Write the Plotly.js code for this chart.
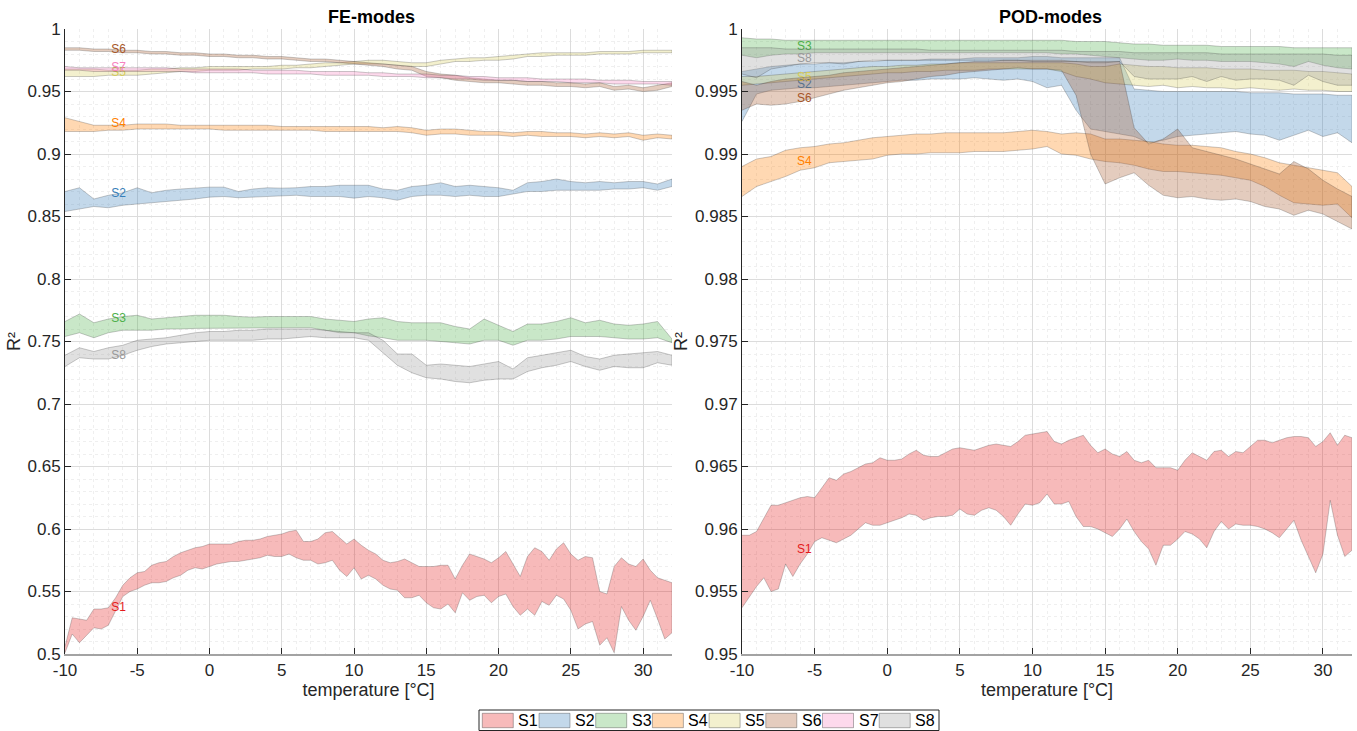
<!DOCTYPE html>
<html>
<head>
<meta charset="utf-8">
<script src="https://cdn.plot.ly/plotly-3.0.1.min.js"></script>
<style>
  html, body { margin: 0; padding: 0; background: #ffffff; }
  #chart { width: 1357px; height: 731px; }
</style>
</head>
<body>
<div id="chart"></div>
<script>
// Temperature grids (°C)
const tempC = [-10,-9,-8,-7,-6,-5,-4,-3,-2,-1,0,1,2,3,4,5,6,7,8,9,10,11,12,13,14,15,16,17,18,19,20,21,22,23,24,25,26,27,28,29,30,31,32];
const tempHalf = [-10,-9.5,-9,-8.5,-8,-7.5,-7,-6.5,-6,-5.5,-5,-4.5,-4,-3.5,-3,-2.5,-2,-1.5,-1,-0.5,
  0,0.5,1,1.5,2,2.5,3,3.5,4,4.5,5,5.5,6,6.5,7,7.5,8,8.5,9,9.5,
  10,10.5,11,11.5,12,12.5,13,13.5,14,14.5,15,15.5,16,16.5,17,17.5,18,18.5,19,19.5,
  20,20.5,21,21.5,22,22.5,23,23.5,24,24.5,25,25.5,26,26.5,27,27.5,28,28.5,29,29.5,
  30,30.5,31,31.5,32];

const seriesNames = ['S1','S2','S3','S4','S5','S6','S7','S8'];
const seriesColors = ['#e41a1c','#377eb8','#4daf4a','#ff7f00','#d6cc5c','#a65628','#f781bf','#999999'];

// ---- FE-modes: R² envelopes (upper / lower) ----
const feS1Hi = [0.506,0.529,0.528,0.527,0.536,0.536,0.537,0.545,0.555,0.561,
  0.565,0.566,0.571,0.573,0.574,0.578,0.581,0.583,0.585,0.586,
  0.588,0.588,0.588,0.588,0.590,0.591,0.591,0.592,0.594,0.595,
  0.596,0.598,0.599,0.590,0.590,0.592,0.597,0.598,0.593,0.588,
  0.592,0.587,0.583,0.580,0.575,0.573,0.574,0.576,0.573,0.570,
  0.570,0.570,0.571,0.571,0.560,0.571,0.580,0.578,0.576,0.573,
  0.577,0.582,0.572,0.562,0.578,0.585,0.582,0.575,0.584,0.589,
  0.580,0.575,0.578,0.577,0.550,0.548,0.570,0.577,0.572,0.570,
  0.576,0.567,0.561,0.559,0.557];
const feS1Lo = [0.501,0.516,0.509,0.515,0.521,0.520,0.523,0.535,0.546,0.550,
  0.552,0.555,0.557,0.557,0.558,0.561,0.563,0.567,0.569,0.568,
  0.570,0.572,0.573,0.574,0.574,0.575,0.576,0.577,0.579,0.578,
  0.578,0.580,0.577,0.575,0.575,0.572,0.573,0.575,0.567,0.562,
  0.569,0.560,0.563,0.560,0.555,0.552,0.551,0.545,0.545,0.547,
  0.541,0.537,0.536,0.540,0.533,0.549,0.543,0.546,0.547,0.541,
  0.546,0.548,0.538,0.531,0.536,0.531,0.542,0.539,0.547,0.544,
  0.535,0.520,0.524,0.526,0.507,0.513,0.501,0.538,0.527,0.519,
  0.530,0.543,0.528,0.512,0.517];
const feS2Hi = [0.870,0.873,0.864,0.867,0.869,0.873,0.869,0.871,0.872,0.873,
  0.8735,0.8735,0.870,0.872,0.873,0.8727,0.873,0.874,0.874,0.875,
  0.8753,0.875,0.872,0.871,0.874,0.875,0.877,0.874,0.875,0.874,
  0.873,0.871,0.877,0.878,0.880,0.878,0.877,0.878,0.877,0.878,
  0.878,0.876,0.880];
const feS2Lo = [0.854,0.856,0.858,0.857,0.859,0.860,0.861,0.862,0.863,0.864,
  0.8655,0.866,0.865,0.866,0.866,0.8665,0.867,0.866,0.866,0.866,
  0.8647,0.866,0.865,0.863,0.866,0.867,0.867,0.866,0.867,0.866,
  0.866,0.868,0.870,0.870,0.871,0.871,0.871,0.871,0.872,0.872,
  0.873,0.871,0.874];
const feS3Hi = [0.766,0.772,0.765,0.768,0.770,0.771,0.768,0.769,0.770,0.771,
  0.771,0.771,0.770,0.7695,0.770,0.770,0.770,0.770,0.768,0.767,
  0.766,0.768,0.769,0.766,0.765,0.765,0.765,0.762,0.760,0.768,
  0.763,0.758,0.764,0.764,0.766,0.769,0.765,0.767,0.764,0.763,
  0.764,0.766,0.752];
const feS3Lo = [0.754,0.757,0.753,0.757,0.759,0.759,0.759,0.760,0.760,0.7605,
  0.761,0.761,0.761,0.761,0.761,0.761,0.761,0.761,0.759,0.757,
  0.757,0.7545,0.753,0.751,0.751,0.751,0.750,0.749,0.748,0.751,
  0.751,0.747,0.751,0.751,0.752,0.754,0.754,0.754,0.753,0.752,
  0.752,0.753,0.749];
const feS4Hi = [0.929,0.926,0.923,0.923,0.923,0.924,0.924,0.924,0.923,0.923,
  0.923,0.923,0.923,0.923,0.923,0.922,0.922,0.922,0.922,0.922,
  0.922,0.922,0.921,0.922,0.921,0.919,0.920,0.920,0.919,0.918,
  0.918,0.917,0.918,0.918,0.917,0.917,0.916,0.917,0.916,0.917,
  0.915,0.916,0.915];
const feS4Lo = [0.918,0.918,0.918,0.919,0.919,0.920,0.920,0.920,0.920,0.920,
  0.920,0.919,0.919,0.919,0.919,0.919,0.919,0.919,0.918,0.918,
  0.918,0.918,0.918,0.918,0.917,0.915,0.916,0.916,0.915,0.915,
  0.915,0.914,0.915,0.914,0.914,0.914,0.913,0.914,0.913,0.914,
  0.911,0.913,0.912];
const feS5Hi = [0.968,0.968,0.968,0.967,0.967,0.967,0.968,0.968,0.969,0.969,
  0.970,0.970,0.970,0.970,0.970,0.971,0.971,0.972,0.973,0.973,
  0.974,0.975,0.975,0.974,0.973,0.973,0.975,0.976,0.977,0.977,
  0.978,0.979,0.980,0.981,0.981,0.981,0.981,0.982,0.982,0.982,
  0.983,0.983,0.983];
const feS5Lo = [0.962,0.962,0.962,0.963,0.963,0.963,0.964,0.965,0.966,0.966,
  0.967,0.967,0.967,0.968,0.968,0.968,0.969,0.969,0.970,0.971,
  0.972,0.972,0.972,0.971,0.970,0.970,0.972,0.974,0.974,0.975,
  0.975,0.976,0.978,0.978,0.979,0.979,0.979,0.980,0.980,0.980,
  0.981,0.981,0.981];
const feS6Hi = [0.985,0.985,0.984,0.984,0.983,0.983,0.982,0.982,0.981,0.981,
  0.980,0.980,0.979,0.979,0.978,0.978,0.977,0.976,0.976,0.975,
  0.974,0.973,0.972,0.971,0.970,0.966,0.964,0.963,0.961,0.960,
  0.959,0.959,0.958,0.958,0.957,0.957,0.956,0.957,0.954,0.955,
  0.953,0.955,0.957];
const feS6Lo = [0.983,0.983,0.982,0.982,0.981,0.981,0.980,0.980,0.979,0.979,
  0.978,0.978,0.977,0.977,0.976,0.976,0.975,0.974,0.974,0.973,
  0.972,0.971,0.970,0.968,0.967,0.962,0.961,0.959,0.958,0.957,
  0.957,0.956,0.955,0.955,0.954,0.954,0.953,0.954,0.951,0.952,
  0.950,0.951,0.954];
const feS7Hi = [0.970,0.969,0.969,0.969,0.969,0.969,0.969,0.969,0.968,0.968,
  0.968,0.968,0.968,0.967,0.967,0.967,0.967,0.966,0.966,0.966,
  0.966,0.965,0.965,0.964,0.964,0.964,0.963,0.963,0.962,0.962,
  0.961,0.961,0.961,0.960,0.960,0.960,0.960,0.959,0.959,0.959,
  0.958,0.958,0.958];
const feS7Lo = [0.967,0.967,0.966,0.966,0.966,0.966,0.966,0.966,0.966,0.965,
  0.965,0.965,0.965,0.965,0.964,0.964,0.964,0.964,0.963,0.963,
  0.963,0.963,0.962,0.962,0.962,0.961,0.961,0.960,0.960,0.959,
  0.959,0.959,0.958,0.958,0.958,0.957,0.957,0.957,0.956,0.956,
  0.956,0.956,0.955];
const feS8Hi = [0.739,0.745,0.742,0.745,0.747,0.751,0.752,0.753,0.755,0.757,
  0.758,0.758,0.759,0.759,0.760,0.760,0.760,0.760,0.759,0.758,
  0.757,0.757,0.751,0.740,0.740,0.731,0.732,0.731,0.730,0.732,
  0.734,0.728,0.737,0.739,0.741,0.743,0.738,0.736,0.739,0.740,
  0.741,0.742,0.739];
const feS8Lo = [0.730,0.737,0.736,0.736,0.739,0.743,0.746,0.748,0.749,0.750,
  0.751,0.751,0.751,0.751,0.752,0.752,0.753,0.754,0.753,0.753,
  0.753,0.751,0.741,0.731,0.725,0.721,0.720,0.718,0.717,0.719,
  0.720,0.720,0.726,0.729,0.731,0.734,0.730,0.727,0.730,0.729,
  0.729,0.733,0.731];

// ---- POD-modes: R² envelopes (upper / lower) ----
const podS1Hi = [0.9595,0.9595,0.9598,0.9608,0.9619,0.9619,0.9621,0.9623,0.9625,0.9626,
  0.9625,0.9633,0.9641,0.9639,0.9644,0.9646,0.9649,0.9652,0.9653,0.9657,
  0.9655,0.9655,0.9656,0.9660,0.9663,0.9659,0.9658,0.9658,0.9661,0.9664,
  0.9665,0.9664,0.9663,0.9665,0.9667,0.9668,0.9667,0.9666,0.9670,0.9675,
  0.9676,0.9677,0.9678,0.9670,0.9668,0.9671,0.9673,0.9675,0.9667,0.9661,
  0.9664,0.9660,0.9658,0.9662,0.9655,0.9653,0.9655,0.9649,0.9649,0.9649,
  0.9647,0.9655,0.9661,0.9658,0.9655,0.9662,0.9663,0.9658,0.9662,0.9661,
  0.9666,0.9671,0.9671,0.9669,0.9671,0.9673,0.9674,0.9674,0.9673,0.9666,
  0.9670,0.9677,0.9667,0.9675,0.9673];
const podS1Lo = [0.9537,0.9546,0.9554,0.9561,0.9550,0.9552,0.9572,0.9562,0.9572,0.9580,
  0.9590,0.9593,0.9591,0.9589,0.9592,0.9595,0.9600,0.9605,0.9603,0.9603,
  0.9605,0.9607,0.9609,0.9612,0.9611,0.9607,0.9609,0.9610,0.9610,0.9611,
  0.9616,0.9612,0.9611,0.9615,0.9617,0.9615,0.9610,0.9603,0.9612,0.9620,
  0.9619,0.9621,0.9628,0.9620,0.9620,0.9622,0.9610,0.9602,0.9602,0.9600,
  0.9597,0.9594,0.9600,0.9608,0.9598,0.9590,0.9584,0.9571,0.9587,0.9587,
  0.9592,0.9598,0.9596,0.9592,0.9585,0.9598,0.9606,0.9600,0.9604,0.9603,
  0.9603,0.9602,0.9600,0.9597,0.9593,0.9600,0.9607,0.9591,0.9578,0.9565,
  0.9580,0.9623,0.9595,0.9578,0.9583];
const podS2Hi = [0.9966,0.9968,0.9970,0.9971,0.9972,0.9972,0.9973,0.9973,0.9974,0.9974,
  0.9975,0.9975,0.9975,0.9976,0.9976,0.9976,0.9977,0.9977,0.9977,0.9977,
  0.9978,0.9978,0.9977,0.9977,0.9977,0.9977,0.9977,0.9952,0.9951,0.9950,
  0.9950,0.9950,0.9950,0.9950,0.9950,0.9949,0.9949,0.9949,0.9948,0.9948,
  0.9948,0.9947,0.9947];
const podS2Lo = [0.9926,0.9948,0.9951,0.9952,0.9953,0.9953,0.9954,0.9955,0.9956,0.9957,
  0.9958,0.9959,0.9959,0.9960,0.9960,0.9960,0.9961,0.9960,0.9959,0.9960,
  0.9958,0.9953,0.9955,0.9935,0.9920,0.9918,0.9916,0.9914,0.9909,0.9911,
  0.9914,0.9915,0.9916,0.9917,0.9918,0.9916,0.9915,0.9911,0.9915,0.9919,
  0.9914,0.9917,0.9909];
const podS3Hi = [0.9993,0.9992,0.9992,0.9991,0.9991,0.9991,0.9991,0.9991,0.9991,0.9991,
  0.9991,0.9991,0.9991,0.9991,0.9991,0.9991,0.9991,0.9991,0.9991,0.9991,
  0.9991,0.9991,0.9991,0.9990,0.9990,0.9990,0.9989,0.9988,0.9988,0.9987,
  0.9987,0.9987,0.9987,0.9986,0.9986,0.9986,0.9986,0.9986,0.9985,0.9985,
  0.9985,0.9985,0.9985];
const podS3Lo = [0.9979,0.9977,0.9979,0.9980,0.9980,0.9981,0.9981,0.9981,0.9981,0.9981,
  0.9981,0.9981,0.9981,0.9981,0.9981,0.9981,0.9981,0.9981,0.9981,0.9981,
  0.9981,0.9981,0.9980,0.9980,0.9979,0.9978,0.9977,0.9976,0.9975,0.9975,
  0.9976,0.9975,0.9975,0.9974,0.9974,0.9974,0.9973,0.9972,0.9970,0.9974,
  0.9971,0.9969,0.9968];
const podS4Hi = [0.9890,0.9896,0.9898,0.9903,0.9905,0.9906,0.9908,0.9909,0.9911,0.9913,
  0.9914,0.9915,0.9916,0.9916,0.9917,0.9917,0.9917,0.9917,0.9917,0.9918,
  0.9919,0.9918,0.9916,0.9917,0.9916,0.9912,0.9912,0.9911,0.9910,0.9908,
  0.9907,0.9907,0.9906,0.9905,0.9902,0.9900,0.9897,0.9893,0.9891,0.9889,
  0.9887,0.9885,0.9874];
const podS4Lo = [0.9866,0.9874,0.9878,0.9882,0.9887,0.9889,0.9893,0.9894,0.9895,0.9896,
  0.9899,0.9900,0.9900,0.9901,0.9901,0.9901,0.9902,0.9902,0.9902,0.9903,
  0.9904,0.9906,0.9900,0.9899,0.9896,0.9894,0.9893,0.9891,0.9888,0.9886,
  0.9886,0.9885,0.9884,0.9883,0.9881,0.9879,0.9874,0.9867,0.9861,0.9860,
  0.9859,0.9860,0.9849];
const podS5Hi = [0.9962,0.9962,0.9963,0.9964,0.9965,0.9966,0.9967,0.9968,0.9969,0.9970,
  0.9970,0.9971,0.9971,0.9972,0.9972,0.9973,0.9973,0.9973,0.9973,0.9973,
  0.9973,0.9973,0.9973,0.9972,0.9970,0.9970,0.9972,0.9971,0.9970,0.9970,
  0.9969,0.9969,0.9969,0.9968,0.9968,0.9968,0.9967,0.9967,0.9967,0.9966,
  0.9966,0.9965,0.9964];
const podS5Lo = [0.9955,0.9956,0.9957,0.9958,0.9959,0.9960,0.9961,0.9962,0.9963,0.9964,
  0.9965,0.9965,0.9966,0.9966,0.9967,0.9967,0.9967,0.9968,0.9968,0.9968,
  0.9968,0.9968,0.9966,0.9962,0.9960,0.9957,0.9956,0.9955,0.9954,0.9955,
  0.9953,0.9954,0.9953,0.9953,0.9952,0.9953,0.9952,0.9951,0.9952,0.9951,
  0.9951,0.9950,0.9950];
const podS6Hi = [0.9958,0.9955,0.9958,0.9960,0.9961,0.9962,0.9963,0.9965,0.9966,0.9967,
  0.9968,0.9969,0.9970,0.9971,0.9972,0.9973,0.9974,0.9974,0.9975,0.9975,
  0.9975,0.9975,0.9975,0.9974,0.9974,0.9974,0.9974,0.9921,0.9908,0.9912,
  0.9920,0.9905,0.9902,0.9899,0.9896,0.9892,0.9888,0.9884,0.9894,0.9888,
  0.9879,0.9872,0.9866];
const podS6Lo = [0.9935,0.9940,0.9939,0.9940,0.9942,0.9945,0.9948,0.9951,0.9953,0.9955,
  0.9957,0.9958,0.9960,0.9962,0.9963,0.9965,0.9966,0.9967,0.9968,0.9969,
  0.9968,0.9968,0.9967,0.9947,0.9900,0.9876,0.9881,0.9885,0.9875,0.9867,
  0.9865,0.9866,0.9864,0.9863,0.9864,0.9862,0.9858,0.9856,0.9851,0.9855,
  0.9852,0.9846,0.9840];
const podS8Hi = [0.9985,0.9985,0.9985,0.9984,0.9984,0.9984,0.9984,0.9984,0.9984,0.9984,
  0.9984,0.9984,0.9984,0.9983,0.9983,0.9983,0.9983,0.9983,0.9983,0.9983,
  0.9983,0.9983,0.9983,0.9982,0.9982,0.9982,0.9982,0.9981,0.9981,0.9981,
  0.9981,0.9981,0.9981,0.9980,0.9980,0.9980,0.9980,0.9980,0.9980,0.9980,
  0.9980,0.9979,0.9979];
const podS8Lo = [0.9964,0.9961,0.9968,0.9970,0.9972,0.9973,0.9973,0.9972,0.9974,0.9975,
  0.9975,0.9975,0.9975,0.9975,0.9975,0.9975,0.9975,0.9975,0.9975,0.9975,
  0.9974,0.9974,0.9974,0.9974,0.9973,0.9973,0.9974,0.9962,0.9960,0.9960,
  0.9960,0.9962,0.9958,0.9962,0.9959,0.9960,0.9960,0.9959,0.9955,0.9963,
  0.9958,0.9955,0.9955];

// In-plot series labels: temperature and R² where each name is written
const feLabelTemp = [-6.3,-6.3,-6.3,-6.3,-6.3,-6.3,-6.3,-6.3];
const feLabelR2   = [0.5368,0.868,0.768,0.924,0.9648,0.9832,0.9688,0.7384];
const podLabelTemp = [-5.7,-5.7,-5.7,-5.7,-5.7,-5.7,null,-5.7];
const podLabelR2   = [0.95832,0.99552,0.99856,0.98936,0.99608,0.9944,null,0.9976];

// Axis ticks
const tempTicks = [-10,-5,0,5,10,15,20,25,30];
const tempTickText = ['-10','-5','0','5','10','15','20','25','30'];
const feTicks = [0.5,0.55,0.6,0.65,0.7,0.75,0.8,0.85,0.9,0.95,1];
const feTickText = ['0.5','0.55','0.6','0.65','0.7','0.75','0.8','0.85','0.9','0.95','1'];
const podTicks = [0.95,0.955,0.96,0.965,0.97,0.975,0.98,0.985,0.99,0.995,1];
const podTickText = ['0.95','0.955','0.96','0.965','0.97','0.975','0.98','0.985','0.99','0.995','1'];

// Series arrays grouped per panel: [temperature grid, upper, lower]
const feSeries = [
  [tempHalf, feS1Hi, feS1Lo], [tempC, feS2Hi, feS2Lo], [tempC, feS3Hi, feS3Lo], [tempC, feS4Hi, feS4Lo],
  [tempC, feS5Hi, feS5Lo], [tempC, feS6Hi, feS6Lo], [tempC, feS7Hi, feS7Lo], [tempC, feS8Hi, feS8Lo]
];
const podSeries = [
  [tempHalf, podS1Hi, podS1Lo], [tempC, podS2Hi, podS2Lo], [tempC, podS3Hi, podS3Lo], [tempC, podS4Hi, podS4Lo],
  [tempC, podS5Hi, podS5Lo], [tempC, podS6Hi, podS6Lo], null, [tempC, podS8Hi, podS8Lo]
];

const FONT = 'Liberation Sans, Arial, Helvetica, sans-serif';
const INK = '#262626';

function rgba(hex, a) {
  const n = parseInt(hex.slice(1), 16);
  return 'rgba(' + ((n >> 16) & 255) + ',' + ((n >> 8) & 255) + ',' + (n & 255) + ',' + a + ')';
}

function bandTrace(x, hi, lo, idx, xa, ya) {
  return {
    type: 'scatter', mode: 'lines', xaxis: xa, yaxis: ya,
    x: x.concat(x.slice().reverse()),
    y: hi.concat(lo.slice().reverse()),
    fill: 'toself', fillcolor: rgba(seriesColors[idx], 0.3),
    line: { color: 'rgba(40,40,40,0.35)', width: 0.7 },
    name: seriesNames[idx], showlegend: false, hoverinfo: 'skip'
  };
}

function labelTrace(tx, ty, idx, xa, ya) {
  return {
    type: 'scatter', mode: 'text', xaxis: xa, yaxis: ya,
    x: [tx], y: [ty], text: [seriesNames[idx]],
    textposition: 'middle center',
    textfont: { family: FONT, size: 12, color: seriesColors[idx] },
    showlegend: false, hoverinfo: 'skip'
  };
}

const traces = [];
feSeries.forEach((s, i) => {
  traces.push(bandTrace(s[0], s[1], s[2], i, 'x', 'y'));
  traces.push(labelTrace(feLabelTemp[i], feLabelR2[i], i, 'x', 'y'));
});
podSeries.forEach((s, i) => {
  if (!s) return;
  traces.push(bandTrace(s[0], s[1], s[2], i, 'x2', 'y2'));
  traces.push(labelTrace(podLabelTemp[i], podLabelR2[i], i, 'x2', 'y2'));
});

const W = 1357, H = 731;
const px = v => v / W;
const py = v => 1 - v / H;

const MAJOR_GRID = '#dcdcdc';
const MINOR_GRID = '#efefef';

function xAxis(domain, anchor) {
  return {
    domain: domain, anchor: anchor, range: [-10, 32],
    tickmode: 'array', tickvals: tempTicks, ticktext: tempTickText,
    ticks: 'inside', ticklen: 6, tickwidth: 1, tickcolor: INK,
    tickfont: { family: FONT, size: 17, color: INK },
    showline: true, linecolor: '#a3a3a3', linewidth: 2,
    showgrid: true, gridcolor: MAJOR_GRID, gridwidth: 1, zeroline: false,
    minor: { tickmode: 'linear', tick0: -10, dtick: 1, showgrid: true, gridcolor: MINOR_GRID, griddash: 'dot', gridwidth: 1, ticks: '' },
    title: { text: 'temperature [°C]', font: { family: FONT, size: 18, color: INK }, standoff: 4 },
    automargin: false, fixedrange: true
  };
}

function yAxis(domain, anchor, range, vals, text, minorStep) {
  return {
    domain: domain, anchor: anchor, range: range,
    tickmode: 'array', tickvals: vals, ticktext: text,
    ticks: 'inside', ticklen: 6, tickwidth: 1, tickcolor: INK,
    tickfont: { family: FONT, size: 17, color: INK },
    showline: true, linecolor: INK, linewidth: 1,
    showgrid: true, gridcolor: MAJOR_GRID, gridwidth: 1, zeroline: false,
    minor: { tickmode: 'linear', tick0: range[0], dtick: minorStep, showgrid: true, gridcolor: MINOR_GRID, griddash: 'dot', gridwidth: 1, ticks: '' },
    title: { text: 'R²', font: { family: FONT, size: 18, color: INK }, standoff: 2 },
    automargin: false, fixedrange: true
  };
}

const yDom = [py(654), py(29)];

// Legend drawn as a boxed row of swatches below both panels
const shapes = [{
  type: 'rect', xref: 'paper', yref: 'paper',
  x0: px(479), x1: px(939), y0: py(730.5), y1: py(710),
  line: { color: INK, width: 1 }, fillcolor: '#ffffff', layer: 'above'
}];
const annotations = [
  { text: '<b>FE-modes</b>', xref: 'x domain', yref: 'paper', x: 0.505, y: py(17), xanchor: 'center', yanchor: 'middle', showarrow: false, font: { family: FONT, size: 18, color: '#000' } },
  { text: '<b>POD-modes</b>', xref: 'x2 domain', yref: 'paper', x: 0.505, y: py(17), xanchor: 'center', yanchor: 'middle', showarrow: false, font: { family: FONT, size: 18, color: '#000' } }
];
seriesNames.forEach((name, i) => {
  const left = 482.3 + 56.7 * i;
  shapes.push({
    type: 'rect', xref: 'paper', yref: 'paper',
    x0: px(left), x1: px(left + 31), y0: py(727.7), y1: py(713.3),
    fillcolor: rgba(seriesColors[i], 0.3), line: { color: 'rgba(40,40,40,0.35)', width: 1 }, layer: 'above'
  });
  annotations.push({
    text: name, xref: 'paper', yref: 'paper', x: px(left + 34), y: py(720.5),
    xanchor: 'left', yanchor: 'middle', showarrow: false,
    font: { family: FONT, size: 16, color: '#000' }
  });
});

const layout = {
  width: W, height: H, margin: { l: 0, r: 0, t: 0, b: 0 },
  paper_bgcolor: '#ffffff', plot_bgcolor: '#ffffff',
  font: { family: FONT, color: INK },
  showlegend: false,
  xaxis: xAxis([px(65), px(672)], 'y'),
  yaxis: yAxis(yDom, 'x', [0.5, 1], feTicks, feTickText, 0.01),
  xaxis2: xAxis([px(742), px(1352)], 'y2'),
  yaxis2: yAxis(yDom, 'x2', [0.95, 1], podTicks, podTickText, 0.001),
  shapes: shapes,
  annotations: annotations
};

Plotly.newPlot('chart', traces, layout, { displayModeBar: false, staticPlot: true });
</script>
</body>
</html>
